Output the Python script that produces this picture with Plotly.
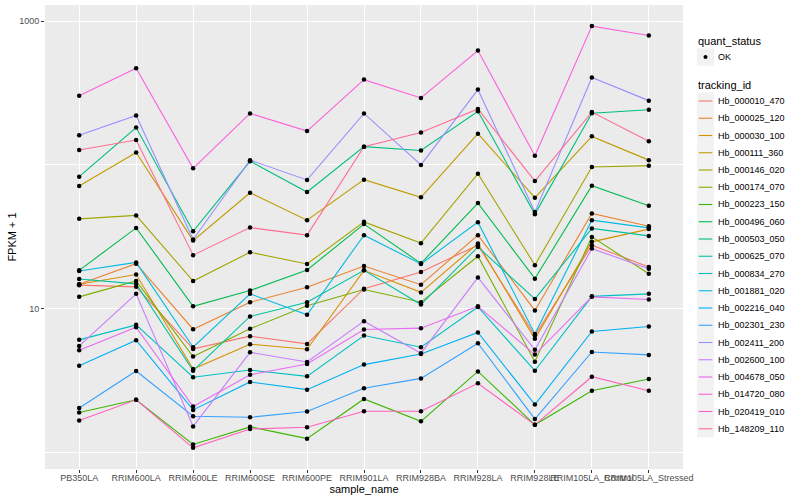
import plotly.graph_objects as go

samples = ["PB350LA", "RRIM600LA", "RRIM600LE", "RRIM600SE", "RRIM600PE", "RRIM901LA",
           "RRIM928BA", "RRIM928LA", "RRIM928LE", "RRIM105LA_Control", "RRIM105LA_Stressed"]

# FPKM + 1 values per tracking_id
Hb_000010_470 = [14.6, 14.2, 5.26, 6.45, 5.70, 13.8, 18.0, 27.7, 6.52, 27.7, 19.5]
Hb_000025_120 = [14.8, 20.6, 7.21, 11.1, 14.1, 19.8, 14.7, 32.5, 9.74, 46.0, 37.5]
Hb_000030_100 = [14.8, 17.3, 3.81, 5.67, 5.23, 18.5, 13.0, 28.4, 6.18, 29.2, 35.8]
Hb_000111_360 = [71.4, 122, 29.8, 64.1, 41.3, 79.0, 59.5, 165, 59.2, 158, 108]
Hb_000146_020 = [42.2, 44.6, 15.6, 24.7, 20.5, 40.2, 28.6, 87.0, 20.1, 96.8, 98.9]
Hb_000174_070 = [12.1, 15.6, 4.65, 7.25, 10.5, 13.6, 11.1, 23.2, 4.29, 31.6, 17.5]
Hb_000223_150 = [1.90, 2.33, 1.14, 1.51, 1.25, 2.36, 1.65, 3.67, 1.56, 2.69, 3.25]
Hb_000496_060 = [18.5, 36.5, 10.4, 13.4, 18.6, 38.8, 20.7, 54.3, 16.2, 71.8, 52.0]
Hb_000503_050 = [82.9, 182, 34.6, 106, 64.8, 134, 126, 236, 45.5, 229, 242]
Hb_000625_070 = [16.1, 14.9, 3.71, 8.84, 11.1, 18.5, 10.7, 26.9, 11.7, 36.2, 32.1]
Hb_000834_270 = [6.08, 7.73, 3.34, 3.75, 3.39, 6.52, 5.40, 10.3, 3.71, 12.2, 12.7]
Hb_001881_020 = [18.3, 21.0, 5.40, 12.7, 9.08, 32.5, 20.5, 40.0, 6.69, 41.3, 36.5]
Hb_002216_040 = [4.02, 6.04, 1.98, 3.10, 2.74, 4.09, 4.85, 6.84, 2.16, 6.95, 7.53]
Hb_002301_230 = [2.04, 3.69, 1.79, 1.76, 1.93, 2.80, 3.28, 5.76, 1.71, 5.01, 4.78]
Hb_002411_200 = [161, 221, 30.3, 108, 78.6, 228, 100, 334, 47.0, 405, 280]
Hb_002600_100 = [5.52, 12.7, 1.52, 4.98, 4.27, 8.20, 4.91, 16.5, 5.18, 26.2, 19.0]
Hb_004678_050 = [5.15, 7.45, 2.09, 3.48, 4.13, 7.18, 7.33, 10.4, 4.80, 12.1, 11.6]
Hb_014720_080 = [303, 470, 94.8, 228, 172, 392, 292, 624, 116, 923, 794]
Hb_020419_010 = [1.67, 2.33, 1.08, 1.46, 1.50, 1.94, 1.94, 3.03, 1.56, 3.37, 2.69]
Hb_148209_110 = [127, 149, 23.6, 36.7, 32.5, 134, 168, 245, 77.3, 233, 146]

tracking_ids = ["Hb_000010_470", "Hb_000025_120", "Hb_000030_100", "Hb_000111_360",
                "Hb_000146_020", "Hb_000174_070", "Hb_000223_150", "Hb_000496_060",
                "Hb_000503_050", "Hb_000625_070", "Hb_000834_270", "Hb_001881_020",
                "Hb_002216_040", "Hb_002301_230", "Hb_002411_200", "Hb_002600_100",
                "Hb_004678_050", "Hb_014720_080", "Hb_020419_010", "Hb_148209_110"]
series = [Hb_000010_470, Hb_000025_120, Hb_000030_100, Hb_000111_360, Hb_000146_020,
          Hb_000174_070, Hb_000223_150, Hb_000496_060, Hb_000503_050, Hb_000625_070,
          Hb_000834_270, Hb_001881_020, Hb_002216_040, Hb_002301_230, Hb_002411_200,
          Hb_002600_100, Hb_004678_050, Hb_014720_080, Hb_020419_010, Hb_148209_110]
colors = ["#F8766D", "#EA8331", "#D89000", "#C09B00", "#A3A500", "#7CAE00", "#39B600",
          "#00BB4E", "#00BF7D", "#00C1A3", "#00BFC4", "#00BAE0", "#00B0F6", "#35A2FF",
          "#9590FF", "#C77CFF", "#E76BF3", "#FA62DB", "#FF62BC", "#FF6C91"]
status_labels = ["OK"]

FONT = "Liberation Sans"
W, H = 800, 500
ML, MR, MT, MB = 45, 117, 5, 31
PW, PH = W - ML - MR, H - MT - MB


def px_x(px):
    return (px - ML) / PW


def px_y(py):
    return (H - MB - py) / PH


fig = go.Figure()

for name, vals, col in zip(tracking_ids, series, colors):
    fig.add_trace(go.Scatter(x=samples, y=vals, mode="lines", name=name,
                             line=dict(color=col, width=1.1), showlegend=False))

all_x, all_y = [], []
for vals in series:
    all_x += samples
    all_y += vals
fig.add_trace(go.Scatter(x=all_x, y=all_y, mode="markers", name=status_labels[0],
                         marker=dict(color="black", size=4.5), showlegend=False))

# ---- ggplot-style legends (keys drawn as layout decorations) ----
shapes, annots = [], []
KX0, KX1, TX = 697, 714, 716
KEY = 17.25


def key_box(cy):
    shapes.append(dict(type="rect", xref="paper", yref="paper",
                       x0=px_x(KX0), x1=px_x(KX1), y0=px_y(cy - KEY / 2), y1=px_y(cy + KEY / 2),
                       fillcolor="#F2F2F2", line=dict(width=0), layer="above"))


def label(text, x, y, size):
    annots.append(dict(text=text, xref="paper", yref="paper", x=px_x(x), y=px_y(y),
                       xanchor="left", yanchor="middle", showarrow=False,
                       font=dict(size=size, family=FONT, color="black")))


label("quant_status", KX0 - 1, 41, 11)
cy = 57
key_box(cy)
shapes.append(dict(type="circle", xref="paper", yref="paper",
                   x0=px_x(705.5 - 2), x1=px_x(705.5 + 2), y0=px_y(cy - 2), y1=px_y(cy + 2),
                   fillcolor="black", line=dict(width=0), layer="above"))
label(status_labels[0], TX, cy, 9)

label("tracking_id", KX0 - 1, 85, 11)
for i, (name, col) in enumerate(zip(tracking_ids, colors)):
    cy = 101 + KEY * i
    key_box(cy)
    shapes.append(dict(type="line", xref="paper", yref="paper",
                       x0=px_x(698.7), x1=px_x(712.3), y0=px_y(cy), y1=px_y(cy),
                       line=dict(color=col, width=1.1), layer="above"))
    label(name, TX, cy, 9)

fig.update_layout(
    width=W, height=H,
    margin=dict(l=ML, r=MR, t=MT, b=MB),
    paper_bgcolor="white", plot_bgcolor="#EBEBEB",
    font=dict(family=FONT, color="black"),
    showlegend=False,
    shapes=shapes, annotations=annots,
    xaxis=dict(type="category", categoryorder="array", categoryarray=samples,
               range=[-0.6, 10.6], showgrid=True, gridcolor="white", gridwidth=1.1,
               zeroline=False, showline=False, ticks="outside", ticklen=3,
               tickcolor="#333333", tickwidth=1, tickangle=0, ticklabelstandoff=-3,
               tickfont=dict(size=9, color="#4D4D4D", family=FONT),
               title=dict(text="sample_name", font=dict(size=11, color="black"), standoff=1),
               automargin=False),
    yaxis=dict(type="log", range=[-0.114, 3.112], tickvals=[10, 1000], ticktext=["10", "1000"],
               showgrid=True, gridcolor="white", gridwidth=1.1, zeroline=False, showline=False,
               ticks="outside", ticklen=3, tickcolor="#333333", tickwidth=1,
               tickfont=dict(size=9, color="#4D4D4D", family=FONT),
               minor=dict(tickvals=[1, 100], showgrid=True, gridcolor="white", gridwidth=0.5, ticks=""),
               title=dict(text="FPKM + 1", font=dict(size=11, color="black"), standoff=0),
               automargin=False),
)

fig.write_html("out.html", config={"displayModeBar": False},
               post_script="document.body.style.margin='0';")
